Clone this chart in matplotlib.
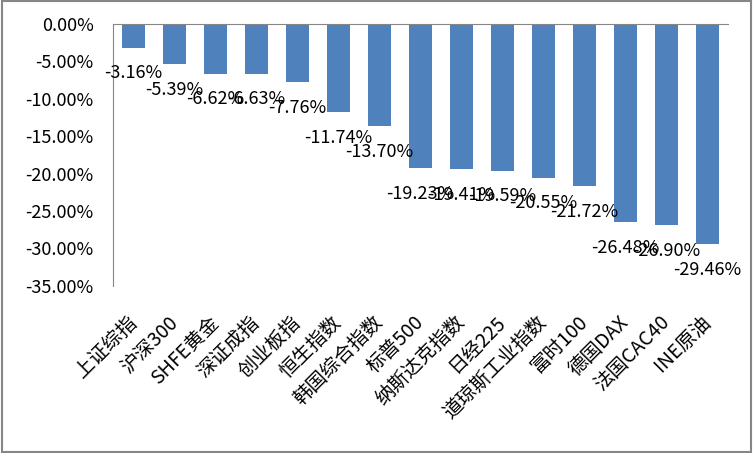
import numpy as np
import matplotlib.pyplot as plt
from matplotlib.patches import Rectangle
from matplotlib.ticker import FuncFormatter

plt.rcParams['font.family'] = ['Noto Sans CJK SC', 'DejaVu Sans']

categories = ['上证综指', '沪深300', 'SHFE黄金', '深证成指', '创业板指', '恒生指数',
              '韩国综合指数', '标普500', '纳斯达克指数', '日经225', '道琼斯工业指数',
              '富时100', '德国DAX', '法国CAC40', 'INE原油']
returns = [-3.16, -5.39, -6.62, -6.63, -7.76, -11.74, -13.70, -19.23, -19.41,
           -19.59, -20.55, -21.72, -26.48, -26.90, -29.46]
y_ticks = [0, -5, -10, -15, -20, -25, -30, -35]

fig = plt.figure(figsize=(7.53, 4.53), dpi=100)
ax = fig.add_axes([0.150, 0.369, 0.817, 0.578])

x = np.arange(len(categories))
bars = ax.bar(x, returns, width=0.56, color='#4F81BD')

# data labels under the bar ends
for xi, v in zip(x, returns):
    ax.annotate(f'{v:.2f}%', (xi, v), xytext=(0, -12), textcoords='offset points',
                ha='center', va='top', fontsize=13, color='#000000')

ax.set_xlim(-0.5, len(categories) - 0.5)
ax.set_ylim(-35, 0)
ax.set_yticks(y_ticks)
ax.yaxis.set_major_formatter(FuncFormatter(lambda v, p: f'{v:.2f}%'))
ax.tick_params(axis='y', length=0, pad=14, labelsize=13)

ax.set_xticks(x)
ax.set_xticklabels(categories, rotation=45, ha='right', va='center',
                   rotation_mode='anchor', fontsize=14)
ax.tick_params(axis='x', length=0, pad=24)

for side in ['right', 'bottom']:
    ax.spines[side].set_visible(False)
ax.spines['top'].set_color('#868686')
ax.spines['left'].set_color('#868686')

# chart border
fig.patches.append(Rectangle((0.002, 0.003), 0.995, 0.994, transform=fig.transFigure,
                             fill=False, edgecolor='#868686', linewidth=1.5))

fig.savefig('out.png', dpi=100)
